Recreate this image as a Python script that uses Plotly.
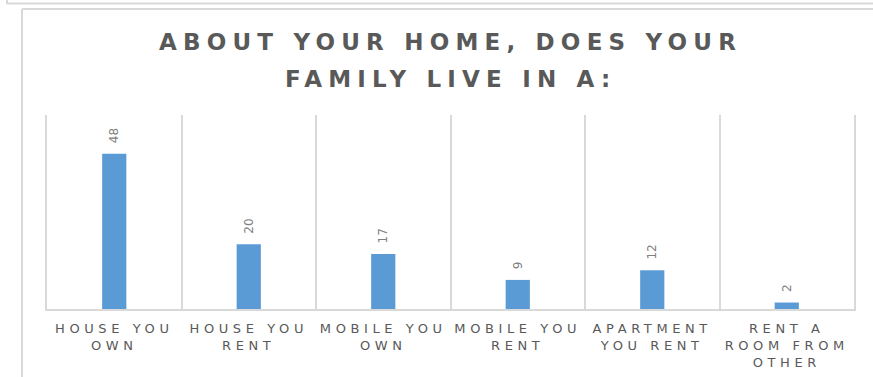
import plotly.graph_objects as go

# Survey responses: type of home the family lives in
categories = [
    "HOUSE YOU OWN",
    "HOUSE YOU RENT",
    "MOBILE YOU OWN",
    "MOBILE YOU RENT",
    "APARTMENT YOU RENT",
    "RENT A ROOM FROM OTHER",
]
tick_lines = [
    ["HOUSE YOU", "OWN"],
    ["HOUSE YOU", "RENT"],
    ["MOBILE YOU", "OWN"],
    ["MOBILE YOU", "RENT"],
    ["APARTMENT", "YOU RENT"],
    ["RENT A", "ROOM FROM", "OTHER"],
]
counts = [48, 20, 17, 9, 12, 2]

title_lines = ["ABOUT YOUR HOME, DOES YOUR", "FAMILY LIVE IN A:"]

W, H = 873, 377
L, R, T, B = 47, 854, 115, 309
GRID = "#d9d9d9"
TEXT = "#595959"
FONT = "DejaVu Sans"


def spaced(line, px):
    return f'<span style="letter-spacing:{px}px">{line}</span>'


def px_x(px):
    return (px - L) / (R - L)


def px_y(py):
    return (B - py) / (B - T)


ticktext = ["<br>".join(spaced(s, 4.6) for s in lines) for lines in tick_lines]

fig = go.Figure(
    go.Bar(
        x=categories,
        y=counts,
        marker=dict(color="#5b9bd5", line=dict(width=0)),
        texttemplate="\u00a0\u00a0%{y}",
        textposition="outside",
        textangle=-90,
        outsidetextfont=dict(family=FONT, size=12, color="#808080"),
        cliponaxis=False,
        width=0.18,
    )
)

frame = dict(color=GRID, width=2)
shapes = [
    dict(type="line", xref="paper", yref="paper", x0=px_x(7), x1=px_x(7), y0=px_y(0), y1=px_y(4), line=frame),
    dict(type="line", xref="paper", yref="paper", x0=px_x(7), x1=px_x(W), y0=px_y(3.5), y1=px_y(3.5), line=frame),
    dict(type="line", xref="paper", yref="paper", x0=px_x(22), x1=px_x(22), y0=px_y(9), y1=px_y(H), line=frame),
    dict(type="line", xref="paper", yref="paper", x0=px_x(22), x1=px_x(W), y0=px_y(9), y1=px_y(9), line=frame),
]

# Two-line chart title, centred over the plot area
title_y = [42, 79]
annotations = [
    dict(
        text=spaced(line, 6.2),
        xref="paper",
        yref="paper",
        x=0.5,
        y=px_y(yy),
        xanchor="center",
        yanchor="middle",
        showarrow=False,
        font=dict(family=FONT, size=23, color=TEXT, weight="bold"),
    )
    for line, yy in zip(title_lines, title_y)
]

fig.update_layout(
    width=W,
    height=H,
    margin=dict(l=L, r=W - R, t=T, b=H - B, autoexpand=False),
    paper_bgcolor="white",
    plot_bgcolor="white",
    showlegend=False,
    annotations=annotations,
    xaxis=dict(
        type="category",
        tickmode="array",
        tickvals=categories,
        ticktext=ticktext,
        tickson="boundaries",
        ticks="",
        tickangle=0,
        automargin=False,
        ticklabelstandoff=7,
        showgrid=True,
        gridcolor=GRID,
        gridwidth=1.5,
        showline=True,
        linecolor=GRID,
        linewidth=1.5,
        tickfont=dict(family=FONT, size=13, color=TEXT),
        range=[-0.5, 5.5],
    ),
    yaxis=dict(
        range=[0, 60],
        showticklabels=False,
        showgrid=False,
        zeroline=False,
        showline=True,
        mirror=True,
        linecolor=GRID,
        linewidth=1.5,
        ticks="",
        automargin=False,
    ),
    shapes=shapes,
)

fig.write_html("out.html")
